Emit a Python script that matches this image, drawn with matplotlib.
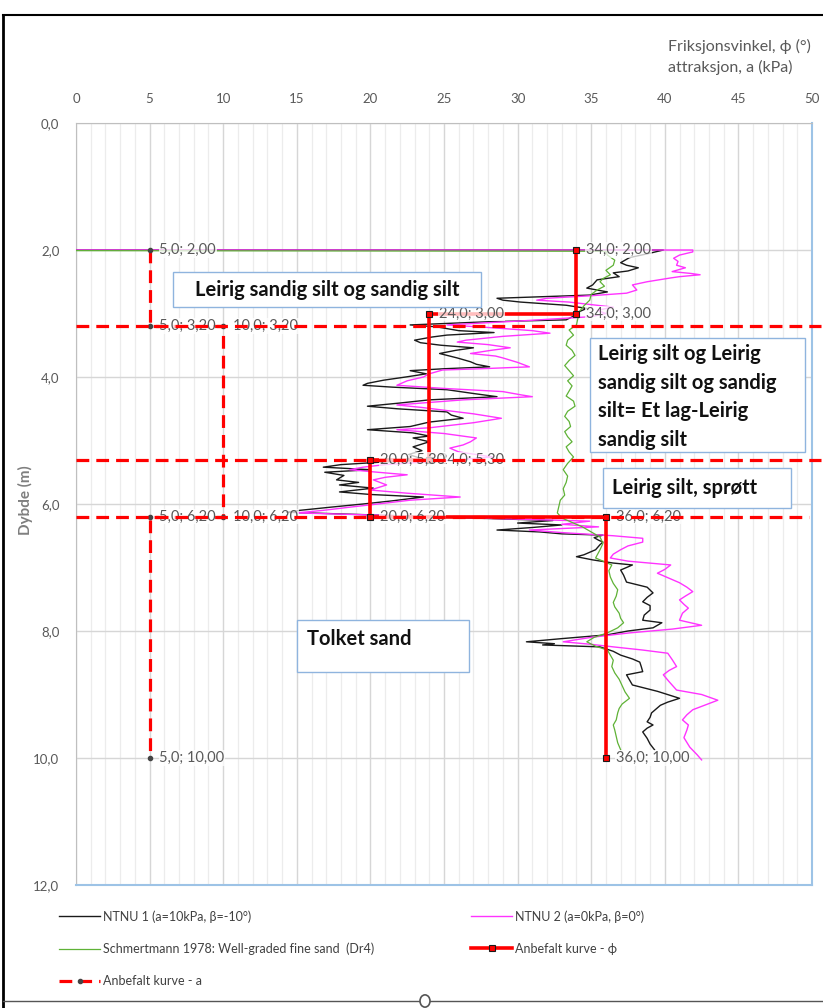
import matplotlib
matplotlib.use("Agg")
import matplotlib.pyplot as plt
from matplotlib.lines import Line2D
from matplotlib.patches import Rectangle, Circle

plt.rcParams['font.family'] = ['Lato', 'DejaVu Sans']

W, H = 823, 1008

# ---- data: NTNU 1 (a=10kPa, beta=-10) ----
ntnu1_d = [2.00, 2.00, 2.05, 2.12, 2.20, 2.24, 2.28, 2.33, 2.36, 2.42, 2.47, 2.55, 2.60, 2.66, 2.71,
           2.74, 2.76, 2.79, 2.82, 2.87, 2.92, 2.97, 3.03, 3.10, 3.13, 3.18, 3.21, 3.27, 3.30, 3.34,
           3.37, 3.42, 3.46, 3.50, 3.54, 3.58, 3.63, 3.70, 3.76, 3.80, 3.84, 3.87, 3.90, 3.95, 4.00,
           4.05, 4.10, 4.13, 4.16, 4.20, 4.26, 4.31, 4.36, 4.41, 4.46, 4.50, 4.55, 4.60, 4.65, 4.71,
           4.78, 4.83, 4.88, 4.93, 4.96, 5.02, 5.10, 5.16, 5.22, 5.28, 5.33, 5.38, 5.42, 5.46, 5.50,
           5.55, 5.62, 5.66, 5.70, 5.75, 5.81, 5.85, 5.89, 5.95, 6.00, 6.05, 6.10, 6.13, 6.26, 6.30,
           6.33, 6.37, 6.41, 6.44, 6.47, 6.49, 6.53, 6.57, 6.60, 6.64, 6.72, 6.80, 6.83, 6.88, 6.93,
           6.96, 7.04, 7.12, 7.23, 7.31, 7.40, 7.47, 7.54, 7.60, 7.67, 7.75, 7.83, 7.87, 7.95, 8.00,
           8.06, 8.12, 8.17, 8.20, 8.22, 8.25, 8.32, 8.38, 8.44, 8.49, 8.56, 8.64, 8.69, 8.77, 8.85,
           8.95, 9.06, 9.12, 9.17, 9.29, 9.36, 9.43, 9.48, 9.53, 9.59, 9.69, 9.78, 9.87]
ntnu1_v = [0.0, 39.9, 39.0, 37.6, 37.0, 37.4, 38.2, 37.5, 36.5, 36.9, 35.4, 35.1, 34.7, 36.1, 34.9,
           31.0, 28.6, 29.0, 30.2, 33.3, 34.7, 34.2, 33.9, 33.3, 28.0, 22.7, 24.5, 26.0, 28.4, 25.2,
           24.2, 23.0, 23.4, 24.8, 27.0, 25.8, 24.7, 25.9, 26.8, 27.2, 28.1, 25.0, 22.7, 23.8, 22.4,
           20.9, 19.8, 19.5, 21.5, 25.2, 27.0, 28.6, 24.0, 22.0, 19.8, 21.8, 25.2, 25.5, 26.3, 24.0,
           22.7, 19.8, 22.9, 24.0, 22.9, 24.0, 22.9, 23.5, 22.6, 23.4, 21.5, 18.0, 16.8, 20.0, 16.9,
           18.2, 17.7, 19.2, 17.9, 20.2, 17.9, 20.0, 23.6, 21.5, 19.5, 17.3, 15.2, 14.3, 32.4, 30.0,
           33.0, 31.0, 28.6, 31.5, 33.0, 35.8, 35.2, 35.5, 35.8, 35.6, 35.3, 34.5, 34.0, 35.1, 36.5,
           37.8, 37.0, 37.2, 37.4, 38.8, 39.2, 38.8, 38.5, 39.0, 39.0, 38.6, 38.5, 39.8, 39.2, 37.5,
           36.1, 33.0, 30.6, 32.5, 31.7, 35.6, 36.5, 37.0, 37.8, 38.3, 38.4, 38.5, 37.4, 37.6, 37.8,
           39.5, 41.0, 40.2, 39.7, 39.1, 39.0, 38.8, 39.2, 38.8, 38.5, 38.8, 39.0, 39.3]

# ---- data: NTNU 2 (a=0kPa, beta=0) ----
ntnu2_d = [2.00, 2.00, 2.03, 2.08, 2.13, 2.18, 2.24, 2.28, 2.34, 2.37, 2.39, 2.42, 2.44, 2.50, 2.55,
           2.63, 2.68, 2.72, 2.76, 2.79, 2.82, 2.86, 2.90, 2.95, 3.00, 3.05, 3.12, 3.18, 3.22, 3.27,
           3.31, 3.36, 3.42, 3.45, 3.49, 3.54, 3.58, 3.63, 3.67, 3.70, 3.77, 3.84, 3.87, 3.89, 3.95,
           4.00, 4.06, 4.13, 4.18, 4.23, 4.28, 4.31, 4.36, 4.40, 4.44, 4.48, 4.52, 4.58, 4.65, 4.72,
           4.76, 4.80, 4.83, 4.89, 4.96, 5.02, 5.07, 5.12, 5.18, 5.26, 5.32, 5.38, 5.42, 5.46, 5.50,
           5.54, 5.58, 5.62, 5.70, 5.78, 5.83, 5.89, 5.94, 6.00, 6.05, 6.10, 6.14, 6.27, 6.32, 6.36,
           6.41, 6.45, 6.50, 6.54, 6.60, 6.66, 6.72, 6.79, 6.85, 6.90, 6.96, 7.03, 7.09, 7.17, 7.24,
           7.31, 7.38, 7.45, 7.51, 7.58, 7.64, 7.72, 7.83, 7.91, 7.97, 8.03, 8.10, 8.17, 8.21, 8.25,
           8.30, 8.35, 8.45, 8.56, 8.62, 8.69, 8.80, 8.93, 9.00, 9.09, 9.16, 9.24, 9.32, 9.40, 9.48,
           9.56, 9.68, 9.83, 9.95, 10.03]
ntnu2_v = [0.0, 41.9, 41.9, 41.0, 40.6, 40.9, 40.8, 41.4, 40.5, 41.8, 42.4, 41.0, 40.4, 38.8, 37.8,
           38.1, 37.4, 35.0, 32.0, 31.3, 33.5, 35.0, 36.5, 35.4, 36.0, 35.0, 30.0, 25.2, 28.0, 31.0,
           32.2, 29.0, 26.5, 25.9, 28.0, 29.5, 28.2, 26.8, 28.5, 29.0, 30.0, 30.8, 27.5, 24.9, 24.0,
           23.6, 22.5, 21.8, 25.0, 29.0, 30.2, 31.0, 26.3, 24.0, 21.8, 23.5, 24.9, 27.0, 28.9, 27.0,
           25.5, 24.0, 21.8, 25.0, 27.2, 26.8, 26.3, 25.4, 26.0, 28.3, 25.0, 21.0, 19.5, 18.6, 20.5,
           22.5, 21.0, 20.2, 21.1, 20.0, 22.5, 26.1, 22.7, 20.5, 18.6, 16.8, 15.0, 34.9, 33.0, 35.5,
           30.8, 33.0, 36.5, 38.5, 38.5, 37.5, 37.0, 36.5, 36.3, 37.5, 40.4, 40.0, 39.5, 40.3, 41.0,
           41.5, 41.9, 41.4, 41.0, 41.3, 41.6, 41.2, 41.0, 42.5, 40.5, 37.6, 35.0, 33.1, 35.0, 36.5,
           38.5, 40.2, 40.5, 40.8, 40.3, 39.9, 40.3, 40.8, 42.5, 43.6, 42.8, 41.9, 41.5, 41.2, 41.6,
           41.5, 41.3, 41.7, 42.2, 42.5]

# ---- data: Schmertmann 1978 ----
schm_d = [2.01, 2.02, 2.08, 2.16, 2.24, 2.32, 2.39, 2.45, 2.50, 2.57, 2.63, 2.70, 2.79, 2.88, 2.97,
          3.07, 3.18, 3.26, 3.34, 3.42, 3.50, 3.58, 3.66, 3.74, 3.82, 3.90, 3.98, 4.06, 4.14, 4.22,
          4.30, 4.38, 4.46, 4.54, 4.62, 4.70, 4.78, 4.86, 4.94, 5.02, 5.10, 5.18, 5.26, 5.36, 5.46,
          5.56, 5.66, 5.76, 5.86, 5.94, 6.04, 6.14, 6.22, 6.30, 6.36, 6.44, 6.52, 6.62, 6.72, 6.85,
          6.96, 7.05, 7.15, 7.25, 7.35, 7.45, 7.55, 7.62, 7.72, 7.80, 7.87, 7.95, 8.03, 8.10, 8.17,
          8.24, 8.30, 8.38, 8.46, 8.56, 8.66, 8.76, 8.86, 8.96, 9.06, 9.15, 9.22, 9.29, 9.40, 9.48,
          9.56, 9.66, 9.76, 9.87]
schm_v = [0.0, 36.0, 36.1, 36.6, 36.5, 36.0, 36.3, 35.8, 35.6, 35.9, 35.4, 35.0, 34.9, 34.5, 34.2,
          34.1, 34.0, 33.5, 33.8, 33.4, 33.3, 33.7, 33.9, 33.5, 33.2, 33.5, 33.8, 33.4, 33.7, 33.5,
          33.3, 33.8, 33.9, 33.4, 33.2, 33.5, 33.6, 33.2, 33.4, 33.7, 33.3, 33.5, 33.8, 33.4, 33.1,
          33.4, 33.3, 33.1, 33.2, 32.9, 32.8, 32.7, 33.0, 33.8, 34.4, 35.0, 35.6, 35.8, 35.6, 35.3,
          36.4, 36.2, 36.3, 36.5, 36.8, 36.7, 36.5, 36.6, 36.9, 37.0, 37.2, 36.8, 36.1, 35.2, 34.7,
          35.3, 36.1, 36.3, 36.5, 36.4, 36.6, 36.9, 37.1, 37.3, 37.6, 37.1, 36.9, 36.8, 36.7, 36.5,
          36.6, 36.7, 36.8, 37.0]

# ---- anbefalte kurver ----
phi_x = [34.0, 34.0, 24.0, 24.0, 20.0, 20.0, 36.0, 36.0]
phi_d = [2.00, 3.00, 3.00, 5.30, 5.30, 6.20, 6.20, 10.00]
a_x = [5.0, 5.0, 10.0, 10.0, 5.0, 5.0]
a_d = [2.00, 3.20, 3.20, 6.20, 6.20, 10.00]

layer_d = [3.20, 5.30, 6.20]          # laggrenser (stiplet, hele bredden)
layer_end = [50.6, 50.6, 49.8]

x_ticks = list(range(0, 51, 5))
y_ticks = [0, 2, 4, 6, 8, 10, 12]

GRAY = '#595959'
RED = '#ff0000'


def fx(px):
    return px / W


def fy(py):
    return 1 - py / H


fig = plt.figure(figsize=(W / 100, H / 100), dpi=100)
ax = fig.add_axes([fx(76), fy(885), (812 - 76) / W, (885 - 123) / H])

ax.set_xlim(0, 50)
ax.set_ylim(12, 0)
ax.xaxis.tick_top()
ax.set_xticks(x_ticks)
ax.set_xticks(range(0, 51), minor=True)
ax.set_yticks(y_ticks)
ax.set_yticklabels([f"{v:.1f}".replace('.', ',') for v in y_ticks])
ax.tick_params(which='both', length=0, labelsize=9.5, colors=GRAY)
ax.tick_params(axis='x', pad=13)
ax.tick_params(axis='y', pad=12)
ax.grid(which='minor', axis='x', color='#ececec', lw=0.9)
ax.grid(which='major', axis='x', color='#d6d6d6', lw=1.0)
ax.grid(which='major', axis='y', color='#d6d6d6', lw=1.0)
ax.set_axisbelow(True)
for s in ['top', 'left']:
    ax.spines[s].set_color('#bfbfbf')
for s in ['right', 'bottom']:
    ax.spines[s].set_color('#9dc3e6')
    ax.spines[s].set_linewidth(1.5)

l1, = ax.plot(ntnu1_v, ntnu1_d, color='#1a1a1a', lw=1.0, zorder=3,
              label="NTNU 1 (a=10kPa, β=-10°)")
l2, = ax.plot(ntnu2_v, ntnu2_d, color='#ff33ff', lw=1.0, zorder=3,
              label="NTNU 2 (a=0kPa, β=0°)")
l3, = ax.plot(schm_v, schm_d, color='#5fb236', lw=0.9, zorder=3,
              label="Schmertmann 1978: Well-graded fine sand  (Dr4)")
l4, = ax.plot(phi_x, phi_d, color=RED, lw=2.6, zorder=5, marker='s', ms=4,
              mfc=RED, mec='#1a1a1a', mew=0.8, label="Anbefalt kurve - ϕ")
l5, = ax.plot(a_x, a_d, color=RED, lw=2.3, dashes=(4, 2.2), zorder=5, marker='o', ms=3,
              mfc='#444444', mec='#444444', label="Anbefalt kurve - a")

# laggrenser over hele bredden
for d, e in zip(layer_d, layer_end):
    ax.plot([0, e], [d, d], color=RED, lw=2.3, dashes=(4, 2.2), zorder=7, clip_on=False)

# dataetiketter
lab_box = dict(boxstyle='square,pad=0.05', fc='white', ec='none', alpha=0.75)
for xs, ds in [(phi_x, phi_d), (a_x, a_d)]:
    for x, d in zip(xs, ds):
        txt = f"{x:.1f}; {d:.2f}".replace('.', ',')
        ax.annotate(txt, (x, d), xytext=(7, 0), textcoords='offset points',
                    ha='left', va='center', fontsize=10.5, color=GRAY, bbox=lab_box, zorder=6)

# tekstbokser
boxes = [
    (173, 272, 481, 307, "Leirig sandig silt og sandig silt", 'center', 327, 290),
    (590, 338, 805, 452, "Leirig silt og Leirig\nsandig silt og sandig\nsilt= Et lag-Leirig\nsandig silt",
     'left', 598, 397),
    (603, 468, 791, 508, "Leirig silt, sprøtt", 'left', 612, 488),
    (297, 620, 469, 672, "Tolket sand", 'left', 307, 639),
]
for x0, y0, x1, y1, txt, ha, tx, ty in boxes:
    fig.add_artist(Rectangle((fx(x0), fy(y1)), (x1 - x0) / W, (y1 - y0) / H,
                             transform=fig.transFigure, fc='white', ec='#8fb4de', lw=1.0, zorder=8))
    fig.text(fx(tx), fy(ty), txt, ha=ha, va='center', fontsize=14.5, fontweight='bold',
             color='#111111', linespacing=1.55, zorder=9)

# aksetitler
fig.text(fx(668), fy(57), "Friksjonsvinkel, ϕ (°)\nattraksjon, a (kPa)", ha='left', va='center',
         fontsize=11.5, color=GRAY, linespacing=1.55)
fig.text(fx(25), fy(500), "Dybde (m)", rotation=90, ha='center', va='center',
         fontsize=11, fontweight='bold', color='#7f7f7f')

# tegnforklaring
leg_kw = dict(frameon=False, fontsize=9, labelcolor='#404040', handlelength=3.3,
              handletextpad=0.2, labelspacing=1.6, loc='upper left', borderaxespad=0)
leg1 = fig.legend(handles=[l1, l3, l5], bbox_to_anchor=(fx(54), fy(905)), **leg_kw)
leg2 = fig.legend(handles=[l2, l4], bbox_to_anchor=(fx(466), fy(905)), **leg_kw)

# ramme (diagramomraade)
fig.add_artist(Line2D([fx(3), fx(3)], [fy(15), fy(1008)], transform=fig.transFigure,
                      color='black', lw=2.0))
fig.add_artist(Line2D([fx(3), fx(823)], [fy(15), fy(15)], transform=fig.transFigure,
                      color='black', lw=1.5))
fig.add_artist(Line2D([fx(3), fx(823)], [fy(1001), fy(1001)], transform=fig.transFigure,
                      color='#555555', lw=1.0))
fig.add_artist(Circle((fx(425), fy(1001)), 5 / W, transform=fig.transFigure,
                      fc='white', ec='#555555', lw=1.2, zorder=10))

fig.savefig("out.png", dpi=100)
